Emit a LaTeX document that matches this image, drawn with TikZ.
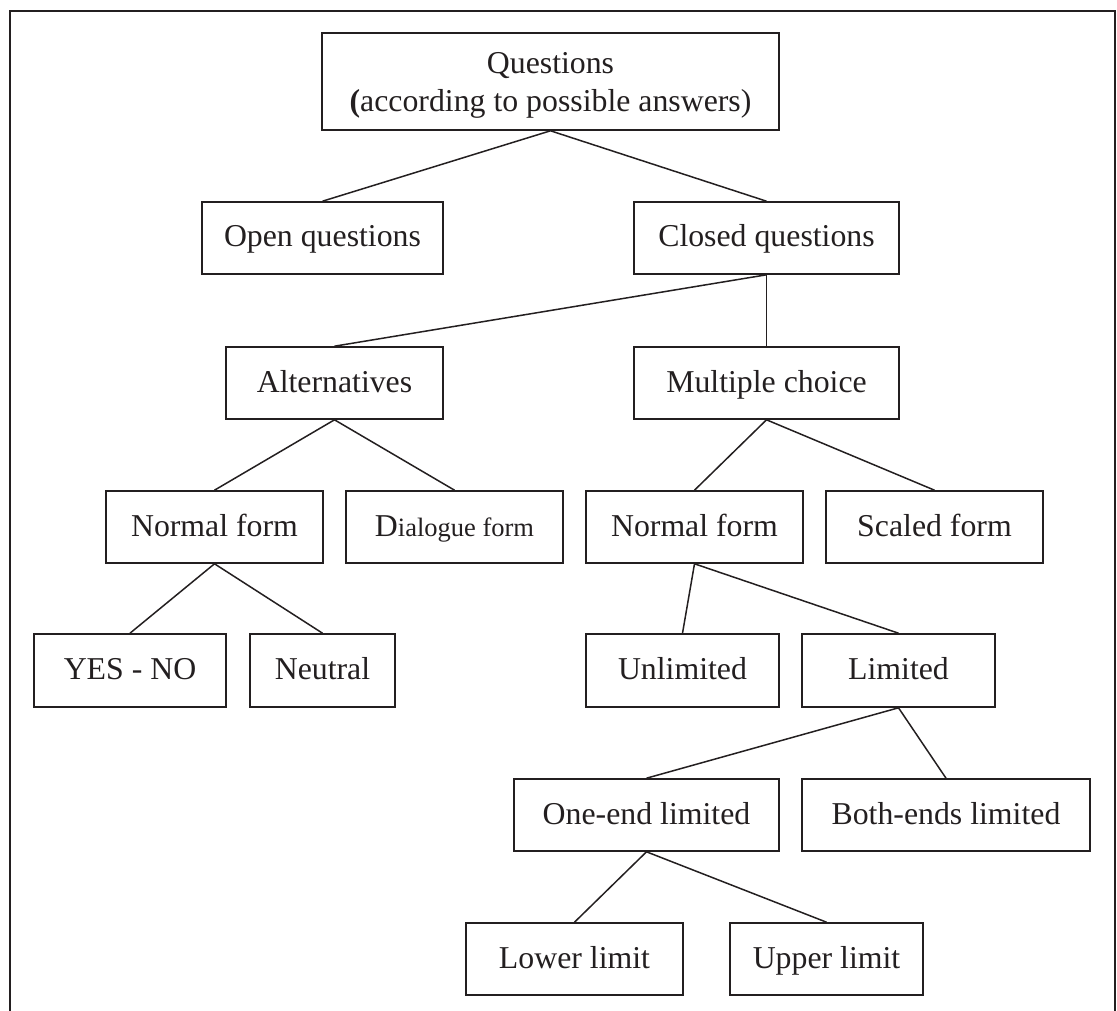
\documentclass[tikz,border=0pt]{standalone}
\usepackage{fontspec}
\setmainfont{Liberation Serif}
\definecolor{ink}{RGB}{35,31,32}
\tikzset{
  box/.style={draw=ink, line width=1.6pt, inner sep=0pt, minimum height=72pt,
              text=ink, font=\fontsize{31.8}{38}\selectfont},
  oneline/.style={text height=25pt, text depth=7pt},
  link/.style={draw=ink, line width=1.5pt},
  frameline/.style={draw=ink, line width=1.7pt},
}
\begin{document}
\begin{tikzpicture}[x=1pt, y=-1pt]
  \useasboundingbox (0,0) rectangle (1117,1011);
  % open frame: left, top and right sides
  \draw[frameline] (10,1011) -- (10,10.7) -- (1115,10.7) -- (1115,1011);

  % level 0 (the zero-width rule lowers the two lines a little)
  \node[box, minimum width=457pt, minimum height=97pt, align=center] (q) at (550.5,81.5)
    {\rule{0pt}{28pt}Questions\\\textbf{(}according to possible answers)};
  % level 1
  \node[box, oneline, minimum width=241pt] (open)   at (322.5,238) {Open questions};
  \node[box, oneline, minimum width=265pt] (closed) at (766.5,238) {Closed questions};
  % level 2
  \node[box, oneline, minimum width=217pt] (alt) at (334.5,383) {Alternatives};
  \node[box, oneline, minimum width=265pt] (mc)  at (766.5,383) {Multiple choice};
  % level 3
  \node[box, oneline, minimum width=217pt] (nfl)    at (214.5,527) {Normal form};
  \node[box, oneline, minimum width=217pt] (dia)    at (454.5,527) {D{\fontsize{26.5}{30}\selectfont ialogue form}};
  \node[box, oneline, minimum width=217pt] (nfr)    at (694.5,527) {Normal form};
  \node[box, oneline, minimum width=217pt] (scaled) at (934.5,527) {Scaled form};
  % level 4
  \node[box, oneline, minimum width=192pt, minimum height=73pt] (yesno)   at (130,670.5)   {YES - NO};
  \node[box, oneline, minimum width=145pt, minimum height=73pt] (neutral) at (322.5,670.5) {Neutral};
  \node[box, oneline, minimum width=193pt, minimum height=73pt] (unlim)   at (682.5,670.5) {Unlimited};
  \node[box, oneline, minimum width=193pt, minimum height=73pt] (lim)     at (898.5,670.5) {Limited};
  % level 5
  \node[box, oneline, minimum width=265pt] (oneend) at (646.5,815) {One-end limited};
  \node[box, oneline, minimum width=288pt] (both)   at (946,815)   {Both-ends limited};
  % level 6
  \node[box, oneline, minimum width=217pt] (lower) at (574.5,959) {Lower limit};
  \node[box, oneline, minimum width=193pt] (upper) at (826.5,959) {Upper limit};

  % connectors
  \draw[link] (q.south) -- (open.north);
  \draw[link] (q.south) -- (closed.north);
  \draw[link] (closed.south) -- (alt.north);
  \draw[link] (closed.south) -- (mc.north);
  \draw[link] (alt.south) -- (nfl.north);
  \draw[link] (alt.south) -- (dia.north);
  \draw[link] (mc.south) -- (nfr.north);
  \draw[link] (mc.south) -- (scaled.north);
  \draw[link] (nfl.south) -- (yesno.north);
  \draw[link] (nfl.south) -- (neutral.north);
  \draw[link] (nfr.south) -- (unlim.north);
  \draw[link] (nfr.south) -- (lim.north);
  \draw[link] (lim.south) -- (oneend.north);
  \draw[link] (lim.south) -- (both.north);
  \draw[link] (oneend.south) -- (lower.north);
  \draw[link] (oneend.south) -- (upper.north);
\end{tikzpicture}
\end{document}
